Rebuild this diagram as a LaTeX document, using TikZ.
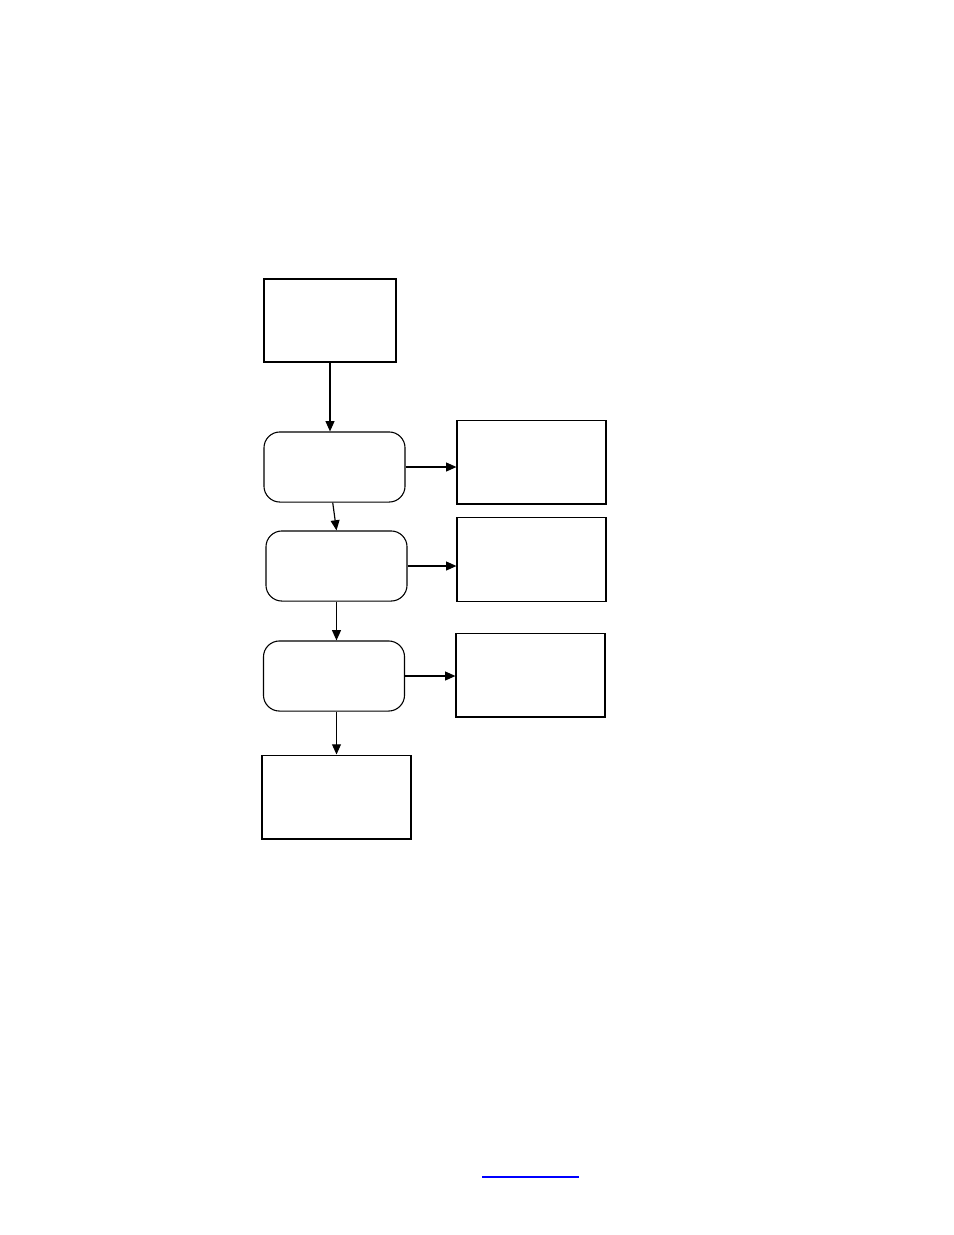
\documentclass[tikz,border=0pt]{standalone}
\usetikzlibrary{arrows.meta, positioning}

\begin{document}
\begin{tikzpicture}[x=0.6415pt, y=-0.6415pt,
every node/.style = {draw, line width=0.75pt, inner sep=0pt},
startbox/.style   = {line width=1.6pt, minimum width=29.8mm, minimum height=18.7mm},
stage/.style      = {rounded corners=3.6mm, line width=0.7pt,
                     minimum width=31.8mm, minimum height=15.8mm},
outbox/.style     = {minimum width=33.6mm, minimum height=18.9mm},
arrow/.style      = {line width=0.75pt, -{Triangle[length=2.3mm, width=2mm]}},
                    ]
\useasboundingbox (0,0) rectangle (954,1235);
%-------
\node (start)  [startbox] at (330,320.5)  {};
%
\node (stageA) [stage]    at (334.5,467)  {};
\node (stageB) [stage]    at (336.5,566)  {};
\node (stageC) [stage]    at (334,676)    {};
%
\node (outA)   [outbox]   at (531.5,462)  {};
\node (outB)   [outbox]   at (531.5,559.5){};
\node (outC)   [outbox]   at (530.5,675)  {};
%
\node (finish) [outbox]   at (336.5,797)  {};
% edges
\draw[arrow] (start.south)    -- (start.south |- stageA.north);
\draw[arrow] ([xshift=-0.4mm] stageA.south) -- (stageB.north);
\draw[arrow] (stageB.south)   -- (stageB.south |- stageC.north);
\draw[arrow] (stageC.south -| finish.north) -- (finish.north);
%---
\draw[arrow] (stageA.east)    -- (stageA.east -| outA.west);
\draw[arrow] (stageB.east)    -- (stageB.east -| outB.west);
\draw[arrow] (stageC.east)    -- (stageC.east -| outC.west);
%---
\draw[blue, line width=0.9pt] (482,1177) -- (579,1177);
\end{tikzpicture}
\end{document}
